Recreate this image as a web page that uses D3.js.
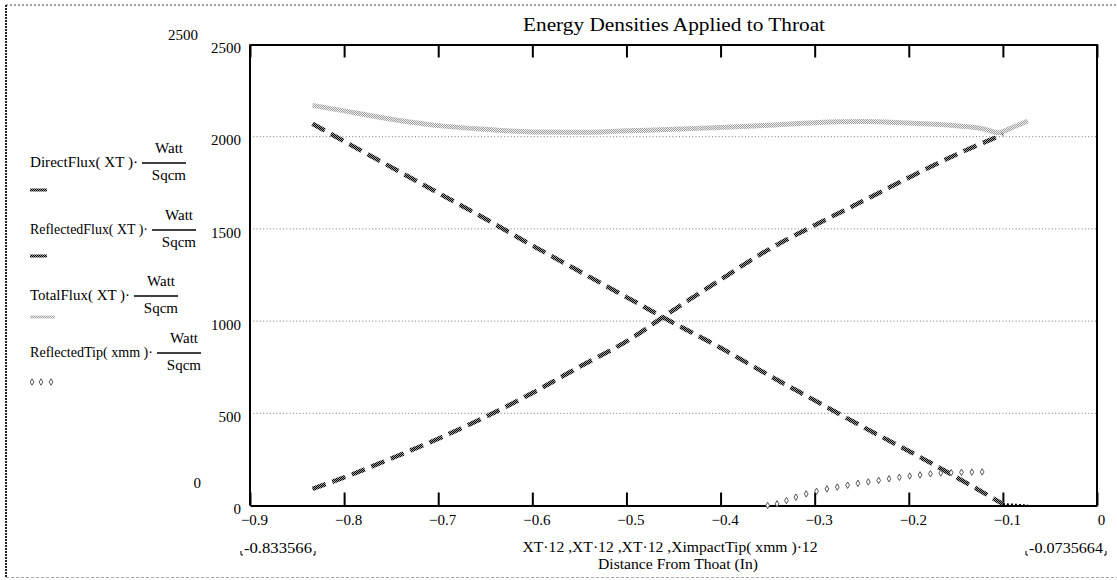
<!DOCTYPE html>
<html>
<head>
<meta charset="utf-8">
<script src="https://cdn.jsdelivr.net/npm/d3@7"></script>
<style>
  body { margin: 0; background: #fff; }
  svg { display: block; }
  text { font-family: "Liberation Serif", "Times New Roman", serif; fill: #000; }
</style>
</head>
<body>
<div class="chart-container"></div>
<script>
// values (x in inches = XT*12, y in Watt/Sqcm)
var fluxX = [-0.8336, -0.80, -0.75, -0.70, -0.65, -0.60, -0.55, -0.50, -0.45, -0.40, -0.35, -0.30, -0.25, -0.20, -0.15, -0.10, -0.0736];
var directFlux = [2070, 1975, 1835, 1695, 1555, 1410, 1270, 1130, 990, 855, 710, 570, 430, 295, 155, 8, 0];
var reflectedFlux = [90, 152, 255, 362, 480, 610, 752, 890, 1060, 1225, 1385, 1520, 1648, 1778, 1902, 2012, null];
var totalX = [-0.8336, -0.80, -0.75, -0.70, -0.65, -0.60, -0.55, -0.50, -0.45, -0.40, -0.35, -0.30, -0.25, -0.20, -0.15, -0.12, -0.105, -0.09, -0.0736];
var totalFlux = [2170, 2140, 2095, 2060, 2040, 2026, 2024, 2032, 2040, 2050, 2062, 2076, 2082, 2074, 2060, 2042, 2022, 2050, 2085];
var tipX = [-0.350, -0.340, -0.330, -0.320, -0.309, -0.298, -0.287, -0.276, -0.265, -0.254, -0.243, -0.232, -0.221, -0.210, -0.199, -0.188, -0.177, -0.166, -0.155, -0.144, -0.133, -0.122];
var tipFlux = [0, 9, 27, 45, 63, 77, 90, 100, 110, 120, 128, 136, 145, 153, 160, 166, 172, 176, 178, 180, 181, 182];

var xTicks = [-0.9, -0.8, -0.7, -0.6, -0.5, -0.4, -0.3, -0.2, -0.1, 0];
var yTicks = [0, 500, 1000, 1500, 2000, 2500];
var legendNames = ["DirectFlux( XT )\u00b7", "ReflectedFlux( XT )\u00b7", "TotalFlux( XT )\u00b7", "ReflectedTip( xmm )\u00b7"];

var SERIF = "Liberation Serif, Times New Roman, serif";
var width = 1117, height = 580;

var svg = d3.select(".chart-container")
    .append("svg")
    .attr("width", width)
    .attr("height", height)
    .attr("font-family", SERIF);

// checkered fills like the Mathcad trace patterns
var defs = svg.append("defs");
function checker(id, bg, fg) {
    var p = defs.append("pattern")
        .attr("id", id)
        .attr("patternUnits", "userSpaceOnUse")
        .attr("width", 2).attr("height", 2);
    p.append("rect").attr("width", 2).attr("height", 2).attr("fill", bg);
    p.append("rect").attr("width", 1).attr("height", 1).attr("fill", fg);
    p.append("rect").attr("x", 1).attr("y", 1).attr("width", 1).attr("height", 1).attr("fill", fg);
}
checker("darkCheck", "#9a9a9a", "#000");
checker("lightCheck", "#eeeeee", "#a0a0a0");

// outer dotted frame
svg.append("line").attr("x1", 6).attr("y1", 5).attr("x2", 6).attr("y2", 577)
    .style("stroke", "#222").style("stroke-width", 2).style("stroke-dasharray", "2,1");
svg.append("line").attr("x1", 6).attr("y1", 5).attr("x2", 1117).attr("y2", 5)
    .style("stroke", "#444").style("stroke-width", 1).style("stroke-dasharray", "2,2");
svg.append("line").attr("x1", 6).attr("y1", 577.5).attr("x2", 1117).attr("y2", 577.5)
    .style("stroke", "#aaa").style("stroke-width", 1).style("stroke-dasharray", "3,2");

var x = d3.scaleLinear().domain([-0.9, 0]).range([250, 1097]);
var y = d3.scaleLinear().domain([0, 2500]).range([505.5, 44.5]);

// grid
svg.append("g")
    .selectAll("line")
    .data(yTicks.filter(function(d) { return d > 0 && d < 2500; }))
    .enter().append("line")
    .attr("x1", x(-0.9)).attr("x2", x(0))
    .attr("y1", function(d) { return y(d); })
    .attr("y2", function(d) { return y(d); })
    .style("stroke", "#777")
    .style("stroke-width", 1)
    .style("stroke-dasharray", "1,2.3");

var fmtX = function(d) { return d === 0 ? "0" : d3.format(".1f")(d); };

var bottomAxis = svg.append("g")
    .attr("transform", "translate(0," + y(0) + ")")
    .call(d3.axisBottom(x).tickValues(xTicks).tickFormat(fmtX).tickSizeInner(-13).tickSizeOuter(0).tickPadding(9));
var topAxis = svg.append("g")
    .attr("transform", "translate(0," + y(2500) + ")")
    .call(d3.axisTop(x).tickValues(xTicks).tickFormat("").tickSizeInner(-13).tickSizeOuter(0));
var leftAxis = svg.append("g")
    .attr("transform", "translate(" + x(-0.9) + ",0)")
    .call(d3.axisLeft(y).tickValues(yTicks).tickFormat(d3.format("d")).tickSize(0).tickPadding(9));
var rightAxis = svg.append("g")
    .attr("transform", "translate(" + x(0) + ",0)")
    .call(d3.axisRight(y).tickValues([]).tickSize(0));

[bottomAxis, topAxis, leftAxis, rightAxis].forEach(function(a) {
    a.attr("font-family", SERIF).attr("font-size", 15);
    a.select(".domain").style("stroke", "#000").style("stroke-width", 2);
    a.selectAll(".tick line").style("stroke", "#000").style("stroke-width", 2);
    a.selectAll("text").style("fill", "#000");
});
bottomAxis.selectAll("text").attr("dx", "4");
leftAxis.selectAll("text").attr("dy", "0.55em");
leftAxis.select(".domain").attr("d", "M0," + y(0) + "V" + y(2500));
rightAxis.select(".domain").attr("d", "M0," + y(0) + "V" + y(2500));

// axis limit labels printed by Mathcad
svg.append("text").attr("x", 198).attr("y", 40).attr("text-anchor", "end")
    .attr("font-size", 15).text("2500");
svg.append("text").attr("x", 201).attr("y", 488).attr("text-anchor", "end")
    .attr("font-size", 15).text("0");

// traces
var fluxLine = d3.line()
    .defined(function(d) { return d[1] !== null; })
    .x(function(d) { return x(d[0]); })
    .y(function(d) { return y(d[1]); })
    .curve(d3.curveMonotoneX);

svg.append("path")
    .datum(d3.zip(totalX, totalFlux))
    .attr("d", fluxLine)
    .style("fill", "none")
    .style("stroke", "url(#lightCheck)")
    .style("stroke-width", 5);

svg.append("path")
    .datum(d3.zip(fluxX, directFlux).filter(function(d) { return d[1] > 0; }))
    .attr("d", fluxLine)
    .style("fill", "none")
    .style("stroke", "url(#darkCheck)")
    .style("stroke-width", 4.5)
    .style("stroke-dasharray", "14,7");

// the flat zero part is drawn as a short dotted run
svg.append("path")
    .datum(d3.zip(fluxX, directFlux).slice(-2))
    .attr("d", fluxLine)
    .style("fill", "none")
    .style("stroke", "#000")
    .style("stroke-width", 2)
    .style("stroke-dasharray", "2,2");

svg.append("path")
    .datum(d3.zip(fluxX, reflectedFlux))
    .attr("d", fluxLine)
    .style("fill", "none")
    .style("stroke", "url(#darkCheck)")
    .style("stroke-width", 4.5)
    .style("stroke-dasharray", "14,7");

var diamond = d3.symbol().type(d3.symbolDiamond).size(12);
svg.append("g")
    .selectAll("path")
    .data(d3.zip(tipX, tipFlux))
    .enter().append("path")
    .attr("transform", function(d) { return "translate(" + x(d[0]) + "," + y(d[1]) + ")"; })
    .attr("d", diamond)
    .style("fill", "#fff")
    .style("stroke", "#444")
    .style("stroke-width", 0.9);

// title
svg.append("text")
    .attr("x", 674).attr("y", 31)
    .attr("text-anchor", "middle")
    .attr("textLength", 302)
    .attr("lengthAdjust", "spacingAndGlyphs")
    .attr("font-size", 19)
    .text("Energy Densities Applied to Throat");

// bottom labels
function bracketed(xEnd, txt, w) {
    svg.append("text")
        .attr("x", xEnd).attr("y", 553)
        .attr("text-anchor", "end")
        .attr("textLength", w)
        .attr("lengthAdjust", "spacingAndGlyphs")
        .attr("font-size", 14)
        .text(txt);
    var x0 = xEnd - w - 3, x1 = xEnd + 3;
    svg.append("path").attr("d", "M" + x0 + ",551V555H" + (x0 + 2))
        .style("fill", "none").style("stroke", "#000").style("stroke-width", 1);
    svg.append("path").attr("d", "M" + x1 + ",551V555H" + (x1 - 2))
        .style("fill", "none").style("stroke", "#000").style("stroke-width", 1);
}
bracketed(312, "-0.833566", 68);
bracketed(1103, "-0.0735664", 74);

svg.append("text")
    .attr("x", 670).attr("y", 552)
    .attr("text-anchor", "middle")
    .attr("textLength", 295)
    .attr("lengthAdjust", "spacingAndGlyphs")
    .attr("font-size", 14)
    .text("XT\u00b712 ,XT\u00b712 ,XT\u00b712 ,XimpactTip( xmm )\u00b712");
svg.append("text")
    .attr("x", 678).attr("y", 569)
    .attr("text-anchor", "middle")
    .attr("textLength", 160)
    .attr("lengthAdjust", "spacingAndGlyphs")
    .attr("font-size", 14)
    .text("Distance From Thoat (In)");

// legend
var legendY = [162, 229, 295, 352];
var sampleY = [190, 256, 317, 382];
var nameW = [108, 118, 100, 123];
legendNames.forEach(function(name, i) {
    var cy = legendY[i];
    svg.append("text")
        .attr("x", 30).attr("y", cy + 5)
        .attr("textLength", nameW[i])
        .attr("lengthAdjust", "spacingAndGlyphs")
        .attr("font-size", 15)
        .text(name);
    var b0 = 30 + nameW[i] + 4, b1 = b0 + 44;
    svg.append("line")
        .attr("x1", b0).attr("x2", b1)
        .attr("y1", cy + 1).attr("y2", cy + 1)
        .style("stroke", "#000").style("stroke-width", 1.3);
    svg.append("text")
        .attr("x", b1 - 3).attr("y", cy - 9)
        .attr("text-anchor", "end")
        .attr("font-size", 15)
        .text("Watt");
    svg.append("text")
        .attr("x", b1).attr("y", cy + 18)
        .attr("text-anchor", "end")
        .attr("font-size", 15)
        .text("Sqcm");
});

// legend samples
[0, 1].forEach(function(i) {
    svg.append("line")
        .attr("x1", 30).attr("x2", 47)
        .attr("y1", sampleY[i]).attr("y2", sampleY[i])
        .style("stroke", "url(#darkCheck)")
        .style("stroke-width", 3);
});
svg.append("line")
    .attr("x1", 30).attr("x2", 55)
    .attr("y1", sampleY[2]).attr("y2", sampleY[2])
    .style("stroke", "url(#lightCheck)")
    .style("stroke-width", 3);
svg.append("g")
    .selectAll("path")
    .data([32, 41, 51])
    .enter().append("path")
    .attr("transform", function(d) { return "translate(" + d + "," + sampleY[3] + ")"; })
    .attr("d", diamond)
    .style("fill", "#fff")
    .style("stroke", "#444")
    .style("stroke-width", 0.9);
</script>
</body>
</html>
